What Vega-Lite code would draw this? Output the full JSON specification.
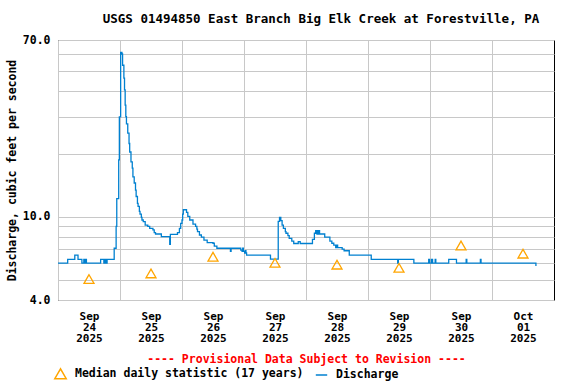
{
  "$schema": "https://vega.github.io/schema/vega-lite/v6.json",
  "width": 496,
  "height": 260,
  "autosize": "none",
  "padding": {"left": 58, "top": 40, "right": 22, "bottom": 84},
  "background": "white",
  "config": {
    "font": "DejaVu Sans Mono",
    "view": {"stroke": "black", "strokeWidth": 1},
    "axis": {
      "labelFont": "DejaVu Sans Mono",
      "labelFontWeight": "bold",
      "labelColor": "black",
      "titleFont": "DejaVu Sans Mono",
      "titleFontWeight": "bold",
      "titleColor": "black",
      "gridColor": "#c8c8c8",
      "gridOpacity": 1,
      "gridWidth": 1,
      "domain": false,
      "ticks": false
    }
  },
  "title": {
    "text": "USGS 01494850 East Branch Big Elk Creek at Forestville, PA",
    "font": "DejaVu Sans Mono",
    "fontSize": 12.5,
    "fontWeight": "bold",
    "color": "black",
    "offset": 9,
    "dx": 15
  },
  "layer": [
    {
      "data": {
        "values": [
          {"t": "2025-09-24T00:00", "q": 6.0},
          {"t": "2025-09-24T03:45", "q": 6.26},
          {"t": "2025-09-24T06:30", "q": 6.56},
          {"t": "2025-09-24T07:45", "q": 6.26},
          {"t": "2025-09-24T09:15", "q": 6.0},
          {"t": "2025-09-24T10:00", "q": 6.26},
          {"t": "2025-09-24T10:15", "q": 6.0},
          {"t": "2025-09-24T10:45", "q": 6.26},
          {"t": "2025-09-24T11:00", "q": 6.0},
          {"t": "2025-09-24T16:30", "q": 6.26},
          {"t": "2025-09-24T17:45", "q": 6.0},
          {"t": "2025-09-24T18:15", "q": 6.26},
          {"t": "2025-09-24T18:30", "q": 6.0},
          {"t": "2025-09-24T19:00", "q": 6.26},
          {"t": "2025-09-24T21:45", "q": 7.07},
          {"t": "2025-09-24T22:30", "q": 9.0},
          {"t": "2025-09-24T22:45", "q": 12.2},
          {"t": "2025-09-24T23:30", "q": 18.7},
          {"t": "2025-09-24T23:45", "q": 30.0},
          {"t": "2025-09-25T00:15", "q": 61.1},
          {"t": "2025-09-25T00:45", "q": 60.0},
          {"t": "2025-09-25T01:00", "q": 53.0},
          {"t": "2025-09-25T01:30", "q": 46.0},
          {"t": "2025-09-25T01:45", "q": 40.4},
          {"t": "2025-09-25T02:00", "q": 34.2},
          {"t": "2025-09-25T02:15", "q": 30.1},
          {"t": "2025-09-25T02:30", "q": 27.8},
          {"t": "2025-09-25T03:00", "q": 25.1},
          {"t": "2025-09-25T03:30", "q": 22.4},
          {"t": "2025-09-25T03:45", "q": 20.4},
          {"t": "2025-09-25T04:15", "q": 18.3},
          {"t": "2025-09-25T04:45", "q": 17.1},
          {"t": "2025-09-25T05:00", "q": 15.5},
          {"t": "2025-09-25T05:30", "q": 14.5},
          {"t": "2025-09-25T06:00", "q": 13.4},
          {"t": "2025-09-25T06:15", "q": 12.5},
          {"t": "2025-09-25T06:45", "q": 11.6},
          {"t": "2025-09-25T07:00", "q": 11.2},
          {"t": "2025-09-25T07:30", "q": 10.6},
          {"t": "2025-09-25T07:45", "q": 10.3},
          {"t": "2025-09-25T08:15", "q": 9.94},
          {"t": "2025-09-25T08:30", "q": 9.65},
          {"t": "2025-09-25T09:00", "q": 9.47},
          {"t": "2025-09-25T09:45", "q": 9.13},
          {"t": "2025-09-25T10:45", "q": 9.0},
          {"t": "2025-09-25T11:30", "q": 8.8},
          {"t": "2025-09-25T12:45", "q": 8.65},
          {"t": "2025-09-25T13:15", "q": 8.39},
          {"t": "2025-09-25T13:45", "q": 8.27},
          {"t": "2025-09-25T16:00", "q": 8.03},
          {"t": "2025-09-25T19:15", "q": 7.39},
          {"t": "2025-09-25T19:30", "q": 8.24},
          {"t": "2025-09-25T22:15", "q": 8.39},
          {"t": "2025-09-25T23:00", "q": 8.8},
          {"t": "2025-09-25T23:30", "q": 9.3},
          {"t": "2025-09-26T00:00", "q": 9.65},
          {"t": "2025-09-26T00:15", "q": 10.3},
          {"t": "2025-09-26T00:30", "q": 10.8},
          {"t": "2025-09-26T01:45", "q": 10.5},
          {"t": "2025-09-26T02:15", "q": 10.05},
          {"t": "2025-09-26T03:00", "q": 9.65},
          {"t": "2025-09-26T04:15", "q": 9.23},
          {"t": "2025-09-26T05:15", "q": 9.0},
          {"t": "2025-09-26T05:45", "q": 8.72},
          {"t": "2025-09-26T06:00", "q": 8.49},
          {"t": "2025-09-26T06:45", "q": 8.18},
          {"t": "2025-09-26T07:30", "q": 8.0},
          {"t": "2025-09-26T08:30", "q": 7.74},
          {"t": "2025-09-26T09:45", "q": 7.53},
          {"t": "2025-09-26T12:00", "q": 7.47},
          {"t": "2025-09-26T12:30", "q": 7.24},
          {"t": "2025-09-26T13:30", "q": 7.07},
          {"t": "2025-09-26T18:45", "q": 6.83},
          {"t": "2025-09-26T19:00", "q": 7.07},
          {"t": "2025-09-26T22:45", "q": 6.93},
          {"t": "2025-09-26T23:15", "q": 6.83},
          {"t": "2025-09-26T23:30", "q": 7.07},
          {"t": "2025-09-26T23:45", "q": 6.83},
          {"t": "2025-09-27T00:15", "q": 6.71},
          {"t": "2025-09-27T00:30", "q": 6.88},
          {"t": "2025-09-27T00:45", "q": 6.71},
          {"t": "2025-09-27T01:00", "q": 6.56},
          {"t": "2025-09-27T10:15", "q": 6.28},
          {"t": "2025-09-27T13:15", "q": 9.5},
          {"t": "2025-09-27T13:45", "q": 9.94},
          {"t": "2025-09-27T14:15", "q": 9.58},
          {"t": "2025-09-27T14:45", "q": 9.13},
          {"t": "2025-09-27T15:15", "q": 8.8},
          {"t": "2025-09-27T16:00", "q": 8.49},
          {"t": "2025-09-27T16:15", "q": 8.34},
          {"t": "2025-09-27T17:00", "q": 8.12},
          {"t": "2025-09-27T17:30", "q": 7.88},
          {"t": "2025-09-27T18:30", "q": 7.65},
          {"t": "2025-09-27T19:15", "q": 7.45},
          {"t": "2025-09-27T21:00", "q": 7.6},
          {"t": "2025-09-27T21:45", "q": 7.45},
          {"t": "2025-09-28T02:30", "q": 7.8},
          {"t": "2025-09-28T03:15", "q": 8.34},
          {"t": "2025-09-28T03:45", "q": 8.58},
          {"t": "2025-09-28T04:15", "q": 8.27},
          {"t": "2025-09-28T04:30", "q": 8.58},
          {"t": "2025-09-28T04:45", "q": 8.27},
          {"t": "2025-09-28T05:00", "q": 8.58},
          {"t": "2025-09-28T05:15", "q": 8.27},
          {"t": "2025-09-28T07:15", "q": 8.0},
          {"t": "2025-09-28T09:15", "q": 7.65},
          {"t": "2025-09-28T10:00", "q": 7.47},
          {"t": "2025-09-28T10:45", "q": 7.32},
          {"t": "2025-09-28T11:30", "q": 7.12},
          {"t": "2025-09-28T12:00", "q": 7.32},
          {"t": "2025-09-28T12:15", "q": 7.12},
          {"t": "2025-09-28T14:00", "q": 7.0},
          {"t": "2025-09-28T14:45", "q": 6.88},
          {"t": "2025-09-28T16:45", "q": 6.56},
          {"t": "2025-09-29T01:15", "q": 6.26},
          {"t": "2025-09-29T11:30", "q": 6.0},
          {"t": "2025-09-29T11:45", "q": 6.26},
          {"t": "2025-09-29T17:45", "q": 6.0},
          {"t": "2025-09-29T23:30", "q": 6.26},
          {"t": "2025-09-29T23:45", "q": 6.0},
          {"t": "2025-09-30T00:30", "q": 6.26},
          {"t": "2025-09-30T01:00", "q": 6.0},
          {"t": "2025-09-30T02:00", "q": 6.26},
          {"t": "2025-09-30T02:15", "q": 6.0},
          {"t": "2025-09-30T07:15", "q": 6.26},
          {"t": "2025-09-30T10:15", "q": 6.0},
          {"t": "2025-09-30T14:00", "q": 6.26},
          {"t": "2025-09-30T14:15", "q": 6.0},
          {"t": "2025-09-30T19:30", "q": 6.26},
          {"t": "2025-09-30T19:45", "q": 6.0},
          {"t": "2025-10-01T17:00", "q": 5.82}
        ]
      },
      "mark": {"type": "line", "interpolate": "step-after", "strokeWidth": 1.3},
      "encoding": {
        "x": {
          "field": "t",
          "type": "temporal",
          "scale": {
            "domain": [
              {"year": 2025, "month": "sep", "date": 24},
              {"year": 2025, "month": "oct", "date": 2}
            ]
          },
          "axis": {
            "values": [
              {"year": 2025, "month": "sep", "date": 24},
              {"year": 2025, "month": "sep", "date": 25},
              {"year": 2025, "month": "sep", "date": 26},
              {"year": 2025, "month": "sep", "date": 27},
              {"year": 2025, "month": "sep", "date": 28},
              {"year": 2025, "month": "sep", "date": 29},
              {"year": 2025, "month": "sep", "date": 30},
              {"year": 2025, "month": "oct", "date": 1}
            ],
            "labelExpr": "[timeFormat(datum.value, '%b'), timeFormat(datum.value, '%d'), timeFormat(datum.value, '%Y')]",
            "labelOffset": 31,
            "labelAlign": "center",
            "labelBaseline": "top",
            "labelFlush": false,
            "labelOverlap": false,
            "labelFontSize": 11,
            "labelLineHeight": 11.3,
            "labelPadding": 10,
            "grid": true,
            "title": "---- Provisional Data Subject to Revision ----",
            "titleColor": "red",
            "titleFontSize": 11.5,
            "titlePadding": 10
          }
        },
        "y": {
          "field": "q",
          "type": "quantitative",
          "scale": {"type": "log", "domain": [4, 70], "nice": false, "zero": false},
          "axis": {
            "values": [4, 5, 6, 7, 8, 9, 10, 20, 30, 40, 50, 60, 70],
            "labelExpr": "(datum.value == 4 || datum.value == 10 || datum.value == 70) ? format(datum.value, '.1f') : ''",
            "labelOverlap": false,
            "labelFontSize": 11.5,
            "labelPadding": 8,
            "grid": true,
            "title": "Discharge, cubic feet per second",
            "titleFontSize": 11.5,
            "titlePadding": 5
          }
        },
        "color": {
          "datum": "Discharge",
          "type": "nominal",
          "scale": {
            "domain": ["Median daily statistic (17 years)", "Discharge"],
            "range": ["#ffa500", "#0080d0"]
          },
          "legend": {
            "orient": "none",
            "legendX": -4,
            "legendY": 327,
            "direction": "horizontal",
            "title": null,
            "labelFont": "DejaVu Sans Mono",
            "labelFontWeight": "bold",
            "labelFontSize": 11.5,
            "labelColor": "black",
            "labelLimit": 400,
            "symbolSize": 130,
            "symbolStrokeWidth": 1.5,
            "columnPadding": 8,
            "labelOffset": 8,
            "padding": 0
          }
        }
      }
    },
    {
      "data": {
        "values": [
          {"t": "2025-09-24T12:00", "q": 5.04},
          {"t": "2025-09-25T12:00", "q": 5.36},
          {"t": "2025-09-26T12:00", "q": 6.44},
          {"t": "2025-09-27T12:00", "q": 6.02},
          {"t": "2025-09-28T12:00", "q": 5.9},
          {"t": "2025-09-29T12:00", "q": 5.7},
          {"t": "2025-09-30T12:00", "q": 7.29},
          {"t": "2025-10-01T12:00", "q": 6.66}
        ]
      },
      "mark": {"type": "point", "filled": false, "size": 100, "strokeWidth": 1.3, "opacity": 1},
      "encoding": {
        "x": {"field": "t", "type": "temporal"},
        "y": {"field": "q", "type": "quantitative"},
        "color": {"datum": "Median daily statistic (17 years)", "type": "nominal"},
        "shape": {
          "datum": "Median daily statistic (17 years)",
          "type": "nominal",
          "scale": {
            "domain": ["Median daily statistic (17 years)", "Discharge"],
            "range": ["triangle-up", "stroke"]
          },
          "legend": {
            "orient": "none",
            "legendX": -4,
            "legendY": 327,
            "direction": "horizontal",
            "title": null,
            "labelFont": "DejaVu Sans Mono",
            "labelFontWeight": "bold",
            "labelFontSize": 11.5,
            "labelColor": "black",
            "labelLimit": 400,
            "symbolSize": 130,
            "symbolStrokeWidth": 1.5,
            "columnPadding": 8,
            "labelOffset": 8,
            "padding": 0
          }
        }
      }
    }
  ]
}
